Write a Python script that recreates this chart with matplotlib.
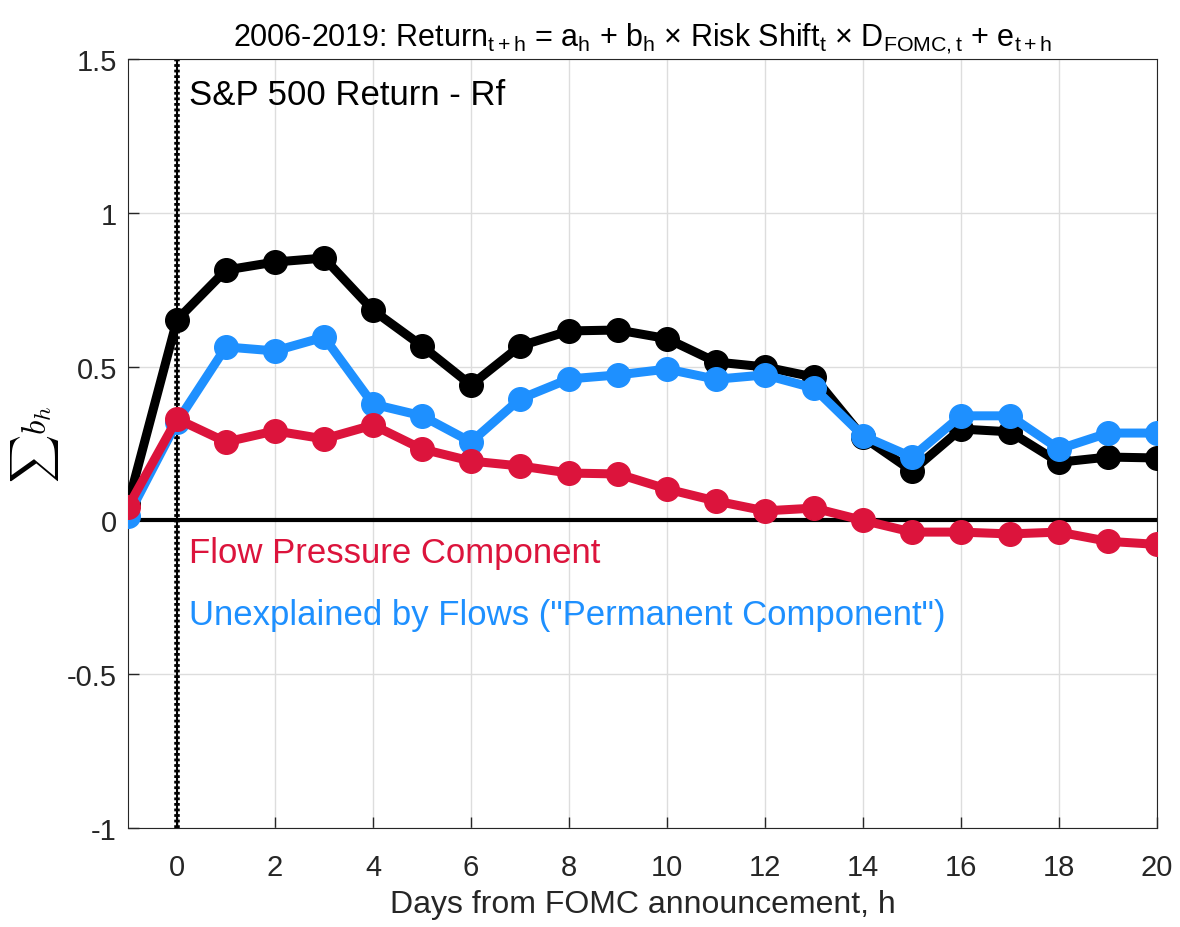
import numpy as np
import matplotlib
matplotlib.use('Agg')
import matplotlib.pyplot as plt
from matplotlib import font_manager

# data
days = list(range(-1, 21))
total = [0.053, 0.652, 0.814, 0.84, 0.853, 0.683, 0.567, 0.44, 0.567, 0.616, 0.619,
         0.591, 0.515, 0.499, 0.466, 0.271, 0.161, 0.297, 0.288, 0.189, 0.206, 0.203]
permanent = [0.014, 0.32, 0.564, 0.551, 0.596, 0.378, 0.34, 0.255, 0.395, 0.46, 0.473,
             0.492, 0.459, 0.473, 0.43, 0.275, 0.206, 0.34, 0.34, 0.232, 0.284, 0.284]
flow = [0.044, 0.33, 0.255, 0.291, 0.265, 0.31, 0.232, 0.193, 0.177, 0.154, 0.151,
        0.102, 0.063, 0.031, 0.04, 0.0, -0.038, -0.038, -0.044, -0.038, -0.068, -0.078]

red = '#DC143C'
blue = '#1E90FF'

names = [f.name for f in font_manager.fontManager.ttflist]
narrow = 'Liberation Sans Narrow' if 'Liberation Sans Narrow' in names else 'Liberation Sans'
title_size = 24 if narrow == 'Liberation Sans Narrow' else 22

plt.rcParams['font.family'] = ['Liberation Sans', 'DejaVu Sans']
plt.rcParams['mathtext.fontset'] = 'custom'
plt.rcParams['mathtext.rm'] = narrow
plt.rcParams['mathtext.it'] = narrow + ':italic'

fig = plt.figure(figsize=(11.8, 9.28), dpi=100)
ax = fig.add_axes([0.1085, 0.1067, 0.872, 0.8286])

ax.plot(days, total, '-o', color='black', lw=6.5, ms=17, zorder=3)
ax.plot(days, permanent, '-o', color=blue, lw=6.5, ms=17, zorder=4)
ax.plot(days, flow, '-o', color=red, lw=6.5, ms=17, zorder=5)

ax.axhline(0, color='black', lw=3, zorder=2)
ax.axvline(0, color='black', lw=1.5, zorder=2)
ax.axvline(0, color='black', lw=4, ls=(0, (0.5, 0.5)), zorder=2)

ax.set_xlim(-1, 20)
ax.set_ylim(-1, 1.5)
ax.set_xticks(range(0, 21, 2))
ax.set_yticks([-1, -0.5, 0, 0.5, 1, 1.5])
ax.set_yticklabels(['-1', '-0.5', '0', '0.5', '1', '1.5'])
ax.grid(True, color='#dddddd', lw=1)
ax.set_axisbelow(True)
ax.tick_params(labelsize=21, colors='#262626', direction='in', length=8, width=1)
ax.tick_params(axis='x', pad=18)
ax.tick_params(axis='y', pad=8)
for s in ax.spines.values():
    s.set_color('#262626')

ax.set_xlabel('Days from FOMC announcement, h', fontsize=23, color='#262626', labelpad=6)
ax.set_ylabel(r'$\sum b_h$', fontsize=24, math_fontfamily='cm', labelpad=4)

title = (r'2006-2019: Return$_{\mathrm{t+h}}$ = a$_{\mathrm{h}}$ + b$_{\mathrm{h}}$ $\times$ '
         r'Risk Shift$_{\mathrm{t}}$ $\times$ D$_{\mathrm{FOMC,t}}$ + e$_{\mathrm{t+h}}$')
ax.set_title(title, fontsize=title_size, family=narrow, pad=10)

ax.text(0.25, 1.385, 'S&P 500 Return - Rf', fontsize=25, color='black', va='center')
ax.text(0.25, -0.105, 'Flow Pressure Component', fontsize=25, color=red, va='center')
ax.text(0.25, -0.305, 'Unexplained by Flows ("Permanent Component")', fontsize=25,
        color=blue, va='center')

fig.savefig('out.png', dpi=100)
